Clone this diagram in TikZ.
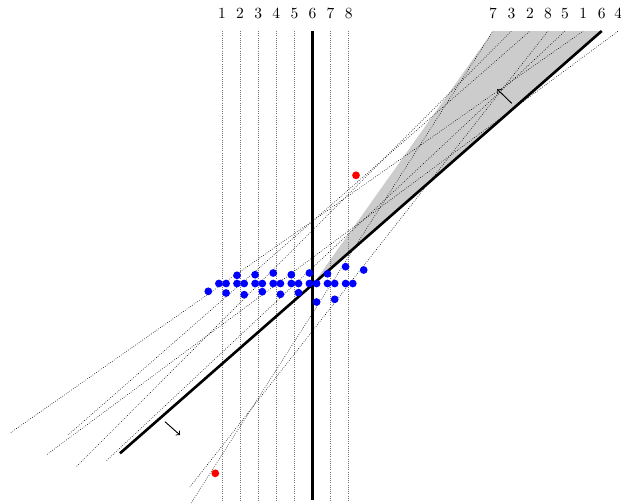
\documentclass[tikz,border=0pt]{standalone}
\usetikzlibrary{calc}
\begin{document}
\begin{tikzpicture}[x=0.645pt,y=-0.645pt,
  vline/.style={densely dotted, black!55, line width=0.4pt},
  dline/.style={densely dotted, black, line width=0.4pt},
  heavy/.style={line width=1.7pt, black},
  bdot/.style={circle, fill=blue, inner sep=0pt, minimum size=5pt},
  rdot/.style={circle, fill=red, inner sep=0pt, minimum size=5pt},
  lab/.style={inner sep=0pt},
  nrm/.style={->, line width=0.6pt}]
\useasboundingbox (0,0) rectangle (621,503);
% vertical lines
\foreach \i in {1,...,8} {
  \coordinate (v\i) at ({222+18.1*(\i-1)},31);
  \coordinate (w\i) at ({222+18.1*(\i-1)},500);
  \coordinate (c\i) at ({222.6+18.1*(\i-1)},284);
}
% top ends of the rotated lines
\coordinate (t1) at (583.3,31);
\coordinate (t2) at (530,31);
\coordinate (t3) at (511.5,31);
\coordinate (t4) at (618.3,31);
\coordinate (t5) at (565,31);
\coordinate (t6) at (601.7,31);
\coordinate (t7) at (493,31);
\coordinate (t8) at (548,31);
% gray wedge
\fill[black!20] (c6) -- (t7) -- (t6) -- cycle;
% dotted verticals
\foreach \i in {1,2,3,4,5,7,8} \draw[vline] (v\i) -- (w\i);
% dotted rotated lines
\foreach \i/\yb in {1/432.5,2/435,3/466.3,4/454.3,5/460.5,7/503,8/487} {
  \coordinate (b\i) at ($(t\i)!{(\yb-31)/253}!(c\i)$);
  \draw[dline] (b\i) -- (t\i);
}
% thick lines
\coordinate (b6) at ($(t6)!{(453.3-31)/253}!(c6)$);
\draw[heavy] (b6) -- (t6);
\draw[heavy] (v6) -- (w6);
% blue points
\foreach \n/\px/\py in {
  p1/218.9/283.5, p2/226.1/283.5, p3/226.1/293, p4/208.3/291.3,
  p5/237/283.5, p6/244.2/283.5, p7/237/275.3, p8/244.2/294.7,
  p9/255.1/283.5, p10/262.3/283.5, p11/255.1/274.7, p12/262.3/291.7,
  p13/273.2/283.5, p14/280.4/283.5, p15/273.2/273, p16/280.4/294.3,
  p17/291.3/283.5, p18/298.5/283.5, p19/291.3/274.7, p20/298.5/292.7,
  p21/309.4/283.5, p22/316.6/283.5, p23/309.4/273, p24/316.6/302,
  p25/327.5/283.5, p26/334.7/283.5, p27/327.5/273.8, p28/334.7/299.3,
  p29/345.6/283.5, p30/352.8/283.5, p31/345.6/266.7, p32/363.7/270}
  \node[bdot] (\n) at (\px,\py) {};
% red points
\node[rdot] (r1) at (356,175.3) {};
\node[rdot] (r2) at (215.3,473.3) {};
% normal arrows
\coordinate (a1s) at (511.7,103.3);
\coordinate (a1e) at (497.3,89.3);
\coordinate (a2s) at (165,421.7);
\coordinate (a2e) at (180,435);
\draw[nrm] (a1s) -- (a1e);
\draw[nrm] (a2s) -- (a2e);
% labels
\foreach \i in {1,...,8} \node[lab] (lv\i) at ({222+18.1*(\i-1)},13) {\i};
\foreach \i in {1,...,8} \node[lab] (lt\i) at ($(t\i)+(0,-18)$) {\i};
\end{tikzpicture}
\end{document}
